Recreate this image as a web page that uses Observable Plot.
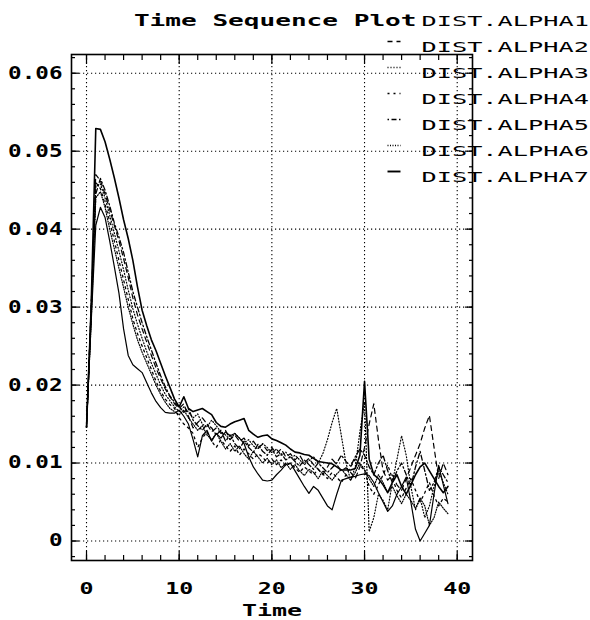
<!DOCTYPE html>
<html><head><meta charset="utf-8">
<script src="https://cdn.jsdelivr.net/npm/d3@7"></script>
<script src="https://cdn.jsdelivr.net/npm/@observablehq/plot@0.6"></script>
<style>html,body{margin:0;background:#fff}svg{display:block}</style>
</head><body><div id="chart"></div>
<script>
const title = "Time Sequence Plot";
const xLabel = "Time";
const seriesNames = ["DIST.ALPHA1","DIST.ALPHA2","DIST.ALPHA3","DIST.ALPHA4","DIST.ALPHA5","DIST.ALPHA6","DIST.ALPHA7"];
const xTicks = [0, 10, 20, 30, 40];
const xTickLabels = ["0", "10", "20", "30", "40"];
const yTicks = [0, 0.01, 0.02, 0.03, 0.04, 0.05, 0.06];
const yTickLabels = ["0", "0.01", "0.02", "0.03", "0.04", "0.05", "0.06"];

const time = [0,0.5,1,1.5,2,2.5,3,3.5,4,4.5,5,5.5,6,6.5,7,7.5,8,8.5,9,9.5,
10,10.5,11,11.5,12,12.5,13,13.5,14,14.5,15,15.5,16,16.5,17,17.5,18,18.5,19,19.5,
20,20.5,21,21.5,22,22.5,23,23.5,24,24.5,25,25.5,26,26.5,27,27.5,28,28.5,29,29.5,
30,30.5,31,31.5,32,32.5,33,33.5,34,34.5,35,35.5,36,36.5,37,37.5,38,38.5,39];

const alpha1 = [
0.0150,0.0280,0.0405,0.0428,0.0415,0.0385,0.0352,0.0318,0.0272,0.0238,
0.0226,0.0221,0.0216,0.0203,0.0190,0.0179,0.0171,0.0165,0.0164,0.0164,
0.0168,0.0160,0.0150,0.0130,0.0108,0.0135,0.0142,0.0128,0.0138,0.0132,
0.0140,0.0135,0.0138,0.0132,0.0125,0.0108,0.0095,0.0086,0.0078,0.0077,
0.0078,0.0085,0.0091,0.0098,0.0100,0.0090,0.0080,0.0070,0.0061,0.0070,
0.0065,0.0055,0.0045,0.0040,0.0060,0.0078,0.0080,0.0082,0.0083,0.0085,
0.0086,0.0084,0.0075,0.0062,0.0050,0.0038,0.0045,0.0060,0.0070,0.0082,
0.0050,0.0015,0.0000,0.0010,0.0020,0.0060,0.0097,0.0072,0.0048];
const alpha2 = [
0.0146,0.0300,0.0470,0.0462,0.0445,0.0425,0.0405,0.0385,0.0362,0.0338,
0.0312,0.0290,0.0272,0.0255,0.0238,0.0222,0.0208,0.0195,0.0185,0.0176,
0.0170,0.0176,0.0160,0.0145,0.0152,0.0158,0.0150,0.0140,0.0145,0.0138,
0.0142,0.0130,0.0136,0.0128,0.0132,0.0122,0.0128,0.0120,0.0124,0.0116,
0.0120,0.0112,0.0118,0.0108,0.0112,0.0104,0.0110,0.0100,0.0106,0.0098,
0.0092,0.0085,0.0095,0.0105,0.0098,0.0090,0.0094,0.0088,0.0080,0.0095,
0.0120,0.0150,0.0176,0.0130,0.0090,0.0078,0.0085,0.0072,0.0065,0.0080,
0.0095,0.0110,0.0125,0.0145,0.0161,0.0120,0.0080,0.0100,0.0085];
const alpha3 = [
0.0146,0.0290,0.0455,0.0458,0.0440,0.0418,0.0395,0.0372,0.0348,0.0322,
0.0298,0.0278,0.0260,0.0243,0.0228,0.0214,0.0200,0.0188,0.0180,0.0172,
0.0166,0.0172,0.0165,0.0158,0.0163,0.0150,0.0146,0.0155,0.0148,0.0140,
0.0136,0.0130,0.0138,0.0132,0.0126,0.0130,0.0122,0.0118,0.0125,0.0120,
0.0113,0.0118,0.0110,0.0114,0.0106,0.0110,0.0104,0.0098,0.0103,0.0108,
0.0100,0.0112,0.0130,0.0152,0.0170,0.0135,0.0100,0.0078,0.0095,0.0140,
0.0178,0.0012,0.0030,0.0060,0.0052,0.0040,0.0075,0.0105,0.0135,0.0110,
0.0070,0.0040,0.0055,0.0030,0.0045,0.0070,0.0090,0.0075,0.0060];
const alpha4 = [
0.0146,0.0290,0.0460,0.0452,0.0432,0.0410,0.0385,0.0360,0.0335,0.0310,
0.0285,0.0266,0.0250,0.0235,0.0220,0.0205,0.0192,0.0182,0.0175,0.0170,
0.0158,0.0150,0.0145,0.0138,0.0120,0.0132,0.0140,0.0128,0.0120,0.0130,
0.0122,0.0115,0.0122,0.0110,0.0118,0.0112,0.0105,0.0112,0.0108,0.0100,
0.0105,0.0098,0.0104,0.0096,0.0100,0.0094,0.0088,0.0095,0.0090,0.0085,
0.0092,0.0086,0.0080,0.0088,0.0082,0.0075,0.0085,0.0095,0.0105,0.0098,
0.0090,0.0070,0.0060,0.0072,0.0085,0.0098,0.0080,0.0065,0.0055,0.0068,
0.0080,0.0065,0.0050,0.0062,0.0075,0.0058,0.0045,0.0055,0.0050];
const alpha5 = [
0.0146,0.0300,0.0445,0.0465,0.0450,0.0430,0.0408,0.0390,0.0370,0.0345,
0.0320,0.0300,0.0280,0.0262,0.0245,0.0228,0.0212,0.0198,0.0186,0.0178,
0.0172,0.0165,0.0170,0.0155,0.0148,0.0142,0.0150,0.0145,0.0136,0.0142,
0.0128,0.0136,0.0125,0.0118,0.0128,0.0120,0.0114,0.0124,0.0115,0.0110,
0.0118,0.0108,0.0112,0.0104,0.0108,0.0102,0.0096,0.0104,0.0098,0.0092,
0.0100,0.0094,0.0088,0.0094,0.0100,0.0110,0.0102,0.0096,0.0108,0.0118,
0.0110,0.0095,0.0085,0.0100,0.0110,0.0090,0.0075,0.0090,0.0100,0.0085,
0.0070,0.0095,0.0115,0.0090,0.0065,0.0075,0.0095,0.0085,0.0075];
const alpha6 = [
0.0146,0.0280,0.0440,0.0448,0.0428,0.0400,0.0375,0.0350,0.0325,0.0300,
0.0278,0.0258,0.0242,0.0228,0.0214,0.0200,0.0188,0.0178,0.0170,0.0166,
0.0162,0.0168,0.0158,0.0150,0.0142,0.0148,0.0136,0.0130,0.0138,0.0128,
0.0118,0.0125,0.0115,0.0122,0.0112,0.0105,0.0115,0.0108,0.0100,0.0106,
0.0098,0.0104,0.0094,0.0100,0.0092,0.0098,0.0090,0.0084,0.0092,0.0088,
0.0080,0.0090,0.0084,0.0078,0.0086,0.0092,0.0085,0.0078,0.0088,0.0100,
0.0092,0.0080,0.0070,0.0085,0.0075,0.0062,0.0070,0.0058,0.0048,0.0060,
0.0052,0.0042,0.0055,0.0045,0.0020,0.0030,0.0050,0.0042,0.0035];
const alpha7 = [
0.0146,0.0300,0.0529,0.0528,0.0512,0.0490,0.0466,0.0440,0.0412,0.0388,
0.0360,0.0326,0.0296,0.0276,0.0258,0.0244,0.0228,0.0212,0.0197,0.0182,
0.0172,0.0185,0.0170,0.0166,0.0168,0.0170,0.0166,0.0162,0.0152,0.0147,
0.0146,0.0150,0.0153,0.0155,0.0157,0.0142,0.0137,0.0133,0.0135,0.0136,
0.0131,0.0129,0.0126,0.0123,0.0118,0.0114,0.0113,0.0111,0.0110,0.0106,
0.0102,0.0101,0.0100,0.0099,0.0095,0.0091,0.0091,0.0091,0.0093,0.0110,
0.0205,0.0105,0.0085,0.0080,0.0072,0.0062,0.0075,0.0085,0.0070,0.0060,
0.0072,0.0085,0.0095,0.0100,0.0090,0.0080,0.0070,0.0062,0.0070];

const seriesValues = [alpha1, alpha2, alpha3, alpha4, alpha5, alpha6, alpha7];

// styling
const dashes = [null, "5,4", "1,2", "2,4", "1.5,2.5,5,2.5", "1,1.5", null];
const widths = [1.2, 1.2, 1.2, 1.3, 1.3, 1.2, 1.6];
const MONO = "DejaVu Sans Mono";

const rows = seriesNames.flatMap((name, k) => time.map((t, i) => ({t, v: seriesValues[k][i], name})));

const yMinor = d3.range(-0.002, 0.0625, 0.002);
const xMinor = d3.range(0, 41, 2);

const marks = [
  Plot.gridX(xTicks, {stroke: "#000", strokeOpacity: 1, strokeWidth: 1.1, strokeDasharray: "1.2,2.8"}),
  Plot.gridY(yTicks, {stroke: "#000", strokeOpacity: 1, strokeWidth: 1.1, strokeDasharray: "1.2,2.8"}),
  ...seriesNames.map((name, k) => Plot.line(rows.filter(d => d.name === name), {
    x: "t", y: "v", stroke: "#000", strokeWidth: widths[k],
    ...(dashes[k] ? {strokeDasharray: dashes[k]} : {})
  })),
  Plot.frame({stroke: "#000", strokeWidth: 1.6}),
  // inward ticks
  Plot.axisY(yMinor, {anchor: "left", tickSize: -4, fill: "none", label: null, strokeWidth: 1.2}),
  Plot.axisY(yTicks, {anchor: "left", tickSize: -8, fill: "none", label: null, strokeWidth: 1.2}),
  Plot.axisY(yMinor, {anchor: "right", tickSize: -4, fill: "none", label: null, strokeWidth: 1.2}),
  Plot.axisY(yTicks, {anchor: "right", tickSize: -8, fill: "none", label: null, strokeWidth: 1.2}),
  Plot.axisX(xMinor, {anchor: "bottom", tickSize: -5, fill: "none", label: null, strokeWidth: 1.2}),
  Plot.axisX(xTicks, {anchor: "bottom", tickSize: -9, fill: "none", label: null, strokeWidth: 1.2}),
  Plot.axisX(xMinor, {anchor: "top", tickSize: -5, fill: "none", label: null, strokeWidth: 1.2}),
  Plot.axisX(xTicks, {anchor: "top", tickSize: -9, fill: "none", label: null, strokeWidth: 1.2}),
  // tick labels
  Plot.axisY(yTicks, {anchor: "left", tickSize: 0, tickPadding: 9, label: null,
    tickFormat: d => yTickLabels[yTicks.indexOf(d)], fontSize: 17, fontWeight: "bold", fontFamily: MONO}),
  Plot.axisX(xTicks, {anchor: "bottom", tickSize: 0, tickPadding: 22, label: null,
    tickFormat: d => xTickLabels[xTicks.indexOf(d)], fontSize: 16.5, fontWeight: "bold", fontFamily: MONO}),
  // axis title
  Plot.text([xLabel], {text: d => d, frameAnchor: "bottom", dy: 55, fontSize: 16, fontWeight: "bold", fontFamily: MONO}),
  // title
  Plot.text([title], {text: d => d, frameAnchor: "top-right", textAnchor: "end", dx: -56, dy: -39,
    fontSize: 15, fontWeight: "bold", fontFamily: MONO}),
  // legend
  ...seriesNames.map((name, k) => Plot.text([name], {text: d => d, frameAnchor: "top-right", textAnchor: "start",
    dx: -51, dy: 15 + 26 * k - 54, fontSize: 14.7, fontFamily: MONO})),
  ...seriesNames.map((name, k) => k === 0 ? null : Plot.vector([0], {frameAnchor: "top-right",
    dx: -85, dy: 15 + 26 * k - 54, rotate: 90, anchor: "start", length: 13, r: 0,
    stroke: "#000", strokeWidth: widths[k] + 0.3, strokeLinecap: "butt",
    ...(dashes[k] ? {strokeDasharray: dashes[k]} : {})}))
];

const chart = Plot.plot({
  width: 590, height: 620,
  marginLeft: 71, marginRight: 118, marginTop: 54, marginBottom: 60,
  x: {domain: [-1.62, 41.65], axis: null},
  y: {domain: [-0.0025, 0.0624], axis: null},
  style: {background: "#fff", color: "#000", fontFamily: MONO, overflow: "visible"},
  marks
});

// horizontal stretch of the wide plotter-style lettering
const stretchOf = (s) => s === title ? 1.74 : seriesNames.includes(s) ? 1.72 : s === xLabel ? 1.56
  : yTickLabels.includes(s) && s.length > 2 ? 1.33 : s === "0" && false ? 1 : null;
chart.querySelectorAll('g[aria-label="y-axis tick label"] text').forEach(t =>
  t.setAttribute("transform", (t.getAttribute("transform") || "") + " scale(1.33,1)"));
chart.querySelectorAll('g[aria-label="x-axis tick label"] text').forEach(t =>
  t.setAttribute("transform", (t.getAttribute("transform") || "") + " scale(1.41,1)"));
chart.querySelectorAll("text").forEach(t => {
  const s = t.textContent;
  const k = s === title ? 1.74 : seriesNames.includes(s) ? 1.72 : s === xLabel ? 1.56 : null;
  if (k) t.setAttribute("transform", (t.getAttribute("transform") || "") + ` scale(${k},1)`);
});
document.getElementById("chart").appendChild(chart);
</script>
</body></html>
